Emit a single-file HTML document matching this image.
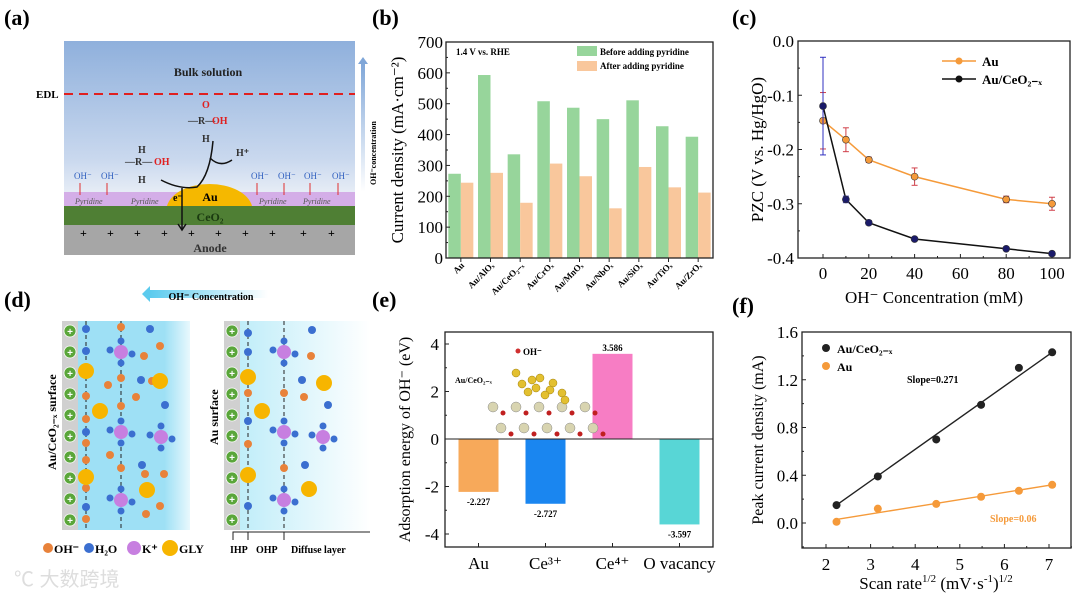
<!DOCTYPE html>
<html><head><meta charset="utf-8"><style>
html,body{margin:0;padding:0;background:#fff;width:1080px;height:600px;overflow:hidden}
svg{display:block;font-family:"Liberation Serif",serif}
</style></head><body>
<svg id="fig" width="1080" height="600" viewBox="0 0 1080 600">
<defs>
<linearGradient id="solA" x1="0" y1="0" x2="0" y2="1"><stop offset="0" stop-color="#8fb0dc"/><stop offset="0.55" stop-color="#c9d8ee"/><stop offset="0.75" stop-color="#eef2f8"/><stop offset="1" stop-color="#fff"/></linearGradient>
<linearGradient id="ohArrow" x1="0" y1="1" x2="0" y2="0"><stop offset="0" stop-color="#fff"/><stop offset="1" stop-color="#7fa6d8"/></linearGradient>
<linearGradient id="dL" x1="0" y1="0" x2="1" y2="0"><stop offset="0" stop-color="#9ee0f5"/><stop offset="0.8" stop-color="#9ee0f5"/><stop offset="1" stop-color="#e8f8fd"/></linearGradient>
<linearGradient id="dR" x1="0" y1="0" x2="1" y2="0"><stop offset="0" stop-color="#b8ebf8"/><stop offset="1" stop-color="#ffffff"/></linearGradient>
<linearGradient id="dArrow" x1="0" y1="0" x2="1" y2="0"><stop offset="0" stop-color="#5ccbee"/><stop offset="1" stop-color="#fff"/></linearGradient>
</defs>

<g font-weight="bold" font-size="22">
<text x="4" y="25">(a)</text>
<text x="372" y="25">(b)</text>
<text x="732" y="25">(c)</text>
<text x="4" y="307">(d)</text>
<text x="372" y="307">(e)</text>
<text x="732" y="313">(f)</text>
</g>

<g>
<rect x="64" y="41" width="291" height="214" fill="url(#solA)"/>
<rect x="64" y="192" width="291" height="14" fill="#d2a6e6" opacity="0.9"/>
<path d="M167 206 A43 26 0 0 1 252 206 Z" fill="#f5b800"/>
<rect x="64" y="206" width="291" height="19" fill="#4f7f34"/>
<rect x="64" y="225" width="291" height="30" fill="#a6a6a6"/>
<line x1="64" y1="94" x2="355" y2="94" stroke="#e02020" stroke-width="2" stroke-dasharray="9,6"/>
<text x="36" y="98" font-size="11" font-weight="bold">EDL</text>
<text x="208" y="76" font-size="12" font-weight="bold" fill="#222" text-anchor="middle">Bulk solution</text>
<g font-size="8" fill="#555" font-style="italic"><text x="75" y="204">Pyridine</text><text x="131" y="204">Pyridine</text><text x="259" y="204">Pyridine</text><text x="303" y="204">Pyridine</text></g>
<g font-size="9" fill="#2f5fbf"><text x="74" y="179">OH⁻</text><text x="101" y="179">OH⁻</text><text x="251" y="179">OH⁻</text><text x="278" y="179">OH⁻</text><text x="304" y="179">OH⁻</text><text x="332" y="179">OH⁻</text></g>
<g stroke="#e03030" stroke-width="1"><line x1="80" y1="195" x2="80" y2="183"/><line x1="107" y1="195" x2="107" y2="183"/><line x1="257" y1="195" x2="257" y2="183"/><line x1="284" y1="195" x2="284" y2="183"/><line x1="310" y1="195" x2="310" y2="183"/><line x1="338" y1="195" x2="338" y2="183"/></g>
<text x="210" y="201" font-size="12" font-weight="bold" text-anchor="middle">Au</text>
<text x="210" y="221" font-size="12" font-weight="bold" fill="#1a3a10" text-anchor="middle">CeO₂</text>
<text x="210" y="252" font-size="12" font-weight="bold" fill="#333" text-anchor="middle">Anode</text>
<g font-size="12" font-weight="bold"><text x="80" y="237">+</text><text x="107" y="237">+</text><text x="134" y="237">+</text><text x="161" y="237">+</text><text x="188" y="237">+</text><text x="215" y="237">+</text><text x="242" y="237">+</text><text x="269" y="237">+</text><text x="300" y="237">+</text><text x="328" y="237">+</text></g>
<text x="173" y="201" font-size="10" font-weight="bold">e⁻</text>
<g font-size="10" font-weight="bold" fill="#333"><text x="138" y="153">H</text><text x="125" y="165">—R—</text><text x="154" y="165" fill="#e02020">OH</text><text x="138" y="183">H</text>
<text x="202" y="108" fill="#e02020">O</text><text x="188" y="124">—R—</text><text x="212" y="124" fill="#e02020">OH</text><text x="202" y="142">H</text><text x="236" y="156">H⁺</text></g>
<path d="M161 180 Q180 190 197 187 Q210 175 213 141" fill="none" stroke="#111" stroke-width="1.5"/>
<path d="M210 158 Q220 168 232 160" fill="none" stroke="#111" stroke-width="1.5"/>
<line x1="182" y1="188" x2="182" y2="229" stroke="#111" stroke-width="1.5"/>
<path d="M178 224 L182 230 L186 224" fill="none" stroke="#111" stroke-width="1.5"/>
<rect x="361" y="62" width="4" height="130" fill="url(#ohArrow)"/>
<path d="M358 64 L363 57 L368 64 Z" fill="#7fa6d8"/>
<text transform="translate(376,185) rotate(-90)" font-size="8" font-weight="bold">OH⁻concentration</text>
</g>

<g>
<rect x="150" y="290" width="118" height="8" fill="url(#dArrow)"/>
<path d="M150 286 L142 294 L150 302 Z" fill="#5ccbee"/>
<text x="211" y="300" font-size="10" font-weight="bold" text-anchor="middle">OH⁻ Concentration</text>
<rect x="62" y="321" width="128" height="209" fill="url(#dL)"/>
<rect x="62" y="321" width="16" height="209" fill="#d0d0d0"/>
<rect x="224" y="321" width="146" height="209" fill="url(#dR)"/>
<rect x="224" y="321" width="16" height="209" fill="#d0d0d0"/>
<line x1="86" y1="321" x2="86" y2="530" stroke="#222" stroke-dasharray="4,3"/>
<line x1="121" y1="321" x2="121" y2="530" stroke="#222" stroke-dasharray="4,3"/>
<line x1="248" y1="321" x2="248" y2="530" stroke="#222" stroke-dasharray="4,3"/>
<line x1="284" y1="321" x2="284" y2="530" stroke="#222" stroke-dasharray="4,3"/>
<g id="dmol"></g>
<text transform="translate(56,470) rotate(-90)" font-size="12" font-weight="bold">Au/CeO₂₋ₓ surface</text>
<text transform="translate(218,445) rotate(-90)" font-size="12" font-weight="bold">Au surface</text>
<g font-size="12" font-weight="bold"><circle cx="48" cy="548" r="5" fill="#e8823a"/><text x="54" y="553">OH⁻</text><circle cx="89" cy="548" r="5" fill="#3b6fd0"/><text x="95" y="553">H₂O</text><circle cx="134" cy="548" r="7" fill="#c77fe0"/><text x="142" y="553">K⁺</text><circle cx="170" cy="548" r="8" fill="#f7b500"/><text x="179" y="553">GLY</text></g>
<g font-size="10" font-weight="bold"><text x="230" y="553">IHP</text><text x="256" y="553">OHP</text><text x="291" y="553">Diffuse layer</text></g>
<path d="M233 540 V532 H370 M248 532 V540 M284 532 V540" fill="none" stroke="#222"/>
<text x="14" y="586" font-size="20" fill="#ddd" font-family="Liberation Sans,'Noto Sans CJK SC',sans-serif">℃ 大数跨境</text>
</g>

<g id="charts"></g>
</svg>
<script>
const bCats=["Au","Au/AlOx","Au/CeO2-x","Au/CrOx","Au/MnOx","Au/NbOx","Au/SiOx","Au/TiOx","Au/ZrOx"];
const bCatLabels=["Au","Au/AlOₓ","Au/CeO₂₋ₓ","Au/CrOₓ","Au/MnOₓ","Au/NbOₓ","Au/SiOₓ","Au/TiOₓ","Au/ZrOₓ"];
const bBefore=[273,593,336,508,487,450,511,427,393];
const bAfter=[244,276,179,306,265,161,295,229,212];
const bTicks=[0,100,200,300,400,500,600,700];
const cX=[0,10,20,40,80,100];
const cAu=[-0.147,-0.182,-0.219,-0.250,-0.292,-0.300];
const cAuErr=[0.052,0.022,0.005,0.016,0.006,0.012];
const cCe=[-0.120,-0.292,-0.335,-0.365,-0.383,-0.392];
const cCeErr=[0.090,0.006,0.004,0.003,0.003,0.003];
const cYTicks=[0,-0.1,-0.2,-0.3,-0.4];
const cXTicks=[0,20,40,60,80,100];
const eCats=["Au","Ce3+","Ce4+","O vacancy"];
const eVals=[-2.227,-2.727,3.586,-3.597];
const eValLabels=["-2.227","-2.727","3.586","-3.597"];
const eYTicks=[-4,-2,0,2,4];
const fX=[2.236,3.162,4.472,5.477,6.325,7.071];
const fCe=[0.15,0.39,0.70,0.99,1.30,1.43];
const fAu=[0.01,0.12,0.16,0.22,0.27,0.32];
const fCeFit=[0.15,1.43];
const fAuFit=[0.03,0.32];
const fYTicks=[0,0.4,0.8,1.2,1.6];
const fXTicks=[2,3,4,5,6,7];

const NS="http://www.w3.org/2000/svg";
const root=document.getElementById('charts');
function mk(tag,attrs,parent,text){const e=document.createElementNS(NS,tag);for(const k in attrs)e.setAttribute(k,attrs[k]);if(text!==undefined)e.textContent=text;(parent||root).appendChild(e);return e;}
function lin(d0,d1,r0,r1){return v=>r0+(v-d0)*(r1-r0)/(d1-d0);}
function frame(g,x0,y0,x1,y1){const r=mk('rect',{x:x0,y:y0,width:x1-x0,height:y1-y0,fill:'none',stroke:'#222','stroke-width':1.3},g);}

(function(){
const g=mk('g',{});
const L=446,R=713,T=42,B=258;
const y=lin(0,700,B,T);const step=(R-L)/bCats.length;const bw=12.5;
bCats.forEach((c,i)=>{const cx=L+step*(i+0.5);
 const r1=mk('rect',{x:cx-bw,y:y(bBefore[i]),width:bw,height:B-y(bBefore[i]),fill:'#97d59b'},g);
 
 const r2=mk('rect',{x:cx,y:y(bAfter[i]),width:bw,height:B-y(bAfter[i]),fill:'#f9c79c'},g);
 
 const t=mk('text',{transform:`translate(${cx+4},${B+8}) rotate(-45)`,'font-size':9,'font-weight':'bold','text-anchor':'end'},g,bCatLabels[i]);
 
 mk('line',{x1:cx,y1:B,x2:cx,y2:B+4,stroke:'#222'},g);
});
frame(g,L,T,R,B);
bTicks.forEach(v=>{mk('line',{x1:L,y1:y(v),x2:L+4,y2:y(v),stroke:'#222'},g);
 if(v<700)mk('line',{x1:L,y1:y(v+50),x2:L+2,y2:y(v+50),stroke:'#222'},g);
 const t=mk('text',{x:L-3,y:y(v)+6,'font-size':17,'text-anchor':'end'},g,v);});
const yt=mk('text',{transform:`translate(403,${(T+B)/2}) rotate(-90)`,'font-size':17,'text-anchor':'middle'},g,'Current density (mA·cm⁻²)');

const an=mk('text',{x:456,y:55,'font-size':9,'font-weight':'bold'},g,'1.4 V vs. RHE');
const l1=mk('rect',{x:577,y:46,width:20,height:10,fill:'#97d59b'},g);
const lt1=mk('text',{x:600,y:55,'font-size':9,'font-weight':'bold'},g,'Before adding pyridine');
const l2=mk('rect',{x:577,y:61,width:20,height:10,fill:'#f9c79c'},g);
const lt2=mk('text',{x:600,y:69,'font-size':9,'font-weight':'bold'},g,'After adding pyridine');
})();

(function(){
const g=mk('g',{});
const L=798,R=1070,T=41,B=258;
const x=lin(0,100,823,1052),y=lin(0,-0.4,T,B);
frame(g,L,T,R,B);
cYTicks.forEach(v=>{mk('line',{x1:L,y1:y(v),x2:L+4,y2:y(v),stroke:'#222'},g);
 if(v>-0.4)mk('line',{x1:L,y1:y(v-0.05),x2:L+2,y2:y(v-0.05),stroke:'#222'},g);
 const t=mk('text',{x:L-4,y:y(v)+6,'font-size':17,'text-anchor':'end'},g,v.toFixed(1));});
cXTicks.forEach(v=>{mk('line',{x1:x(v),y1:B,x2:x(v),y2:B-4,stroke:'#222'},g);
 if(v<100)mk('line',{x1:x(v+10),y1:B,x2:x(v+10),y2:B-2,stroke:'#222'},g);
 const t=mk('text',{x:x(v),y:B+21,'font-size':17,'text-anchor':'middle'},g,v);});
const xt=mk('text',{x:934,y:303,'font-size':17,'text-anchor':'middle'},g,'OH⁻ Concentration (mM)');
const yt=mk('text',{transform:`translate(763,${(T+B)/2}) rotate(-90)`,'font-size':17,'text-anchor':'middle'},g,'PZC (V vs. Hg/HgO)');
function series(vals,errs,col,fill,ecol,name){
 const p=mk('polyline',{points:cX.map((v,i)=>x(v)+','+y(vals[i])).join(' '),fill:'none',stroke:col,'stroke-width':1.5},g);
 
 cX.forEach((v,i)=>{const e=errs[i];
  mk('line',{x1:x(v),y1:y(vals[i]+e),x2:x(v),y2:y(vals[i]-e),stroke:ecol,'stroke-width':1},g);
  mk('line',{x1:x(v)-3,y1:y(vals[i]+e),x2:x(v)+3,y2:y(vals[i]+e),stroke:ecol},g);
  mk('line',{x1:x(v)-3,y1:y(vals[i]-e),x2:x(v)+3,y2:y(vals[i]-e),stroke:ecol},g);
  const c=mk('circle',{cx:x(v),cy:y(vals[i]),r:3.5,fill:fill,stroke:'#333','stroke-width':0.6},g);
  });
}
series(cAu,cAuErr,'#f59a3a','#f59a3a','#d0404a','au');
series(cCe,cCeErr,'#111','#1a1a6a','#3030c0','au-ceo2');
mk('line',{x1:942,y1:61,x2:976,y2:61,stroke:'#f59a3a','stroke-width':1.5},g);mk('circle',{cx:959,cy:61,r:3.5,fill:'#f59a3a'},g);
const a=mk('text',{x:982,y:66,'font-size':13,'font-weight':'bold'},g,'Au');
mk('line',{x1:942,y1:79,x2:976,y2:79,stroke:'#111','stroke-width':1.5},g);mk('circle',{cx:959,cy:79,r:3.5,fill:'#111'},g);
const b=mk('text',{x:982,y:84,'font-size':13,'font-weight':'bold'},g,'Au/CeO₂₋ₓ');
})();

(function(){
const g=mk('g',{});
const L=445,R=713,T=332,B=547;
const y=lin(0,4,439,344);const step=(R-L)/eCats.length;const cols=['#f7a95a','#1a86f0','#f77dc4','#58d6d6'];
eVals.forEach((v,i)=>{const cx=L+step*(i+0.5);
 const r=mk('rect',{x:cx-20,y:Math.min(y(v),y(0)),width:40,height:Math.abs(y(v)-y(0)),fill:cols[i]},g);
 
 const t=mk('text',{x:cx,y:v>0?y(v)-3:y(v)+13,'font-size':9,'font-weight':'bold','text-anchor':'middle'},g,eValLabels[i]);
 
 mk('line',{x1:cx,y1:B,x2:cx,y2:B-4,stroke:'#222'},g);
 const xl=mk('text',{x:cx,y:B+22,'font-size':17,'text-anchor':'middle'},g,['Au','Ce³⁺','Ce⁴⁺','O vacancy'][i]);
 });
mk('line',{x1:L,y1:y(0),x2:R,y2:y(0),stroke:'#222'},g);
frame(g,L,T,R,B);
eYTicks.forEach(v=>{mk('line',{x1:L,y1:y(v),x2:L+4,y2:y(v),stroke:'#222'},g);
 if(v<4)mk('line',{x1:L,y1:y(v+1),x2:L+2,y2:y(v+1),stroke:'#222'},g);
 const t=mk('text',{x:L-6,y:y(v)+6,'font-size':17,'text-anchor':'end'},g,v);});
const yt=mk('text',{transform:`translate(410,${(T+B)/2}) rotate(-90)`,'font-size':16,'text-anchor':'middle'},g,'Adsorption energy of OH⁻ (eV)');
const ins=mk('g',{},g);
mk('text',{x:455,y:383,'font-size':8,'font-weight':'bold'},ins,'Au/CeO₂₋ₓ');
mk('circle',{cx:518,cy:351,r:2.5,fill:'#d03030'},ins);mk('text',{x:523,y:355,'font-size':9,'font-weight':'bold'},ins,'OH⁻');
for(let r=0;r<2;r++)for(let k=0;k<5;k++){mk('circle',{cx:493+k*23+r*8,cy:407+r*21,r:5,fill:'#d8d4b0',stroke:'#888','stroke-width':0.5},ins);
 mk('circle',{cx:503+k*23+r*8,cy:413+r*21,r:2.5,fill:'#c02020'},ins);}
[[516,373],[522,384],[532,380],[540,378],[536,388],[553,383],[550,390],[562,393],[565,400],[528,392],[545,395]].forEach(p=>mk('circle',{cx:p[0],cy:p[1],r:4,fill:'#e3c030',stroke:'#a08010','stroke-width':0.5},ins));
})();

(function(){
const g=mk('g',{});
const L=802,R=1071,T=332,B=548;
const x=lin(2,7,826,1049),y=lin(0,1.6,523,332);
frame(g,L,T,R,B);
fYTicks.forEach(v=>{mk('line',{x1:L,y1:y(v),x2:L+4,y2:y(v),stroke:'#222'},g);
 mk('line',{x1:L,y1:y(v-0.2),x2:L+2,y2:y(v-0.2),stroke:'#222'},g);
 const t=mk('text',{x:L-4,y:y(v)+6,'font-size':17,'text-anchor':'end'},g,v.toFixed(1));});
fXTicks.forEach(v=>{mk('line',{x1:x(v),y1:B,x2:x(v),y2:B-4,stroke:'#222'},g);
 mk('line',{x1:x(v+0.5),y1:B,x2:x(v+0.5),y2:B-2,stroke:'#222'},g);
 const t=mk('text',{x:x(v),y:B+22,'font-size':17,'text-anchor':'middle'},g,v);});
const xt=mk('text',{x:936,y:589,'font-size':17,'text-anchor':'middle'},g);
mk('tspan',{},xt,'Scan rate');mk('tspan',{'font-size':11,dy:-7},xt,'1/2');mk('tspan',{dy:7},xt,' (mV·s');mk('tspan',{'font-size':11,dy:-7},xt,'-1');mk('tspan',{dy:7},xt,')');mk('tspan',{'font-size':11,dy:-7},xt,'1/2');
const yt=mk('text',{transform:`translate(763,${(T+B)/2}) rotate(-90)`,'font-size':16,'text-anchor':'middle'},g,'Peak current density (mA)');
const x0=fX[0],x1=fX[fX.length-1];
const f1=mk('line',{x1:x(x0),y1:y(fCeFit[0]),x2:x(x1),y2:y(fCeFit[1]),stroke:'#222','stroke-width':1.4},g);
const f2=mk('line',{x1:x(x0),y1:y(fAuFit[0]),x2:x(x1),y2:y(fAuFit[1]),stroke:'#f59a3a','stroke-width':1.4},g);
fX.forEach((v,i)=>{const a=mk('circle',{cx:x(v),cy:y(fCe[i]),r:4,fill:'#222'},g);
 const b=mk('circle',{cx:x(v),cy:y(fAu[i]),r:4,fill:'#f59a3a'},g);});
mk('circle',{cx:826,cy:348,r:4,fill:'#222'},g);
const l1=mk('text',{x:837,y:353,'font-size':12,'font-weight':'bold'},g,'Au/CeO₂₋ₓ');
mk('circle',{cx:826,cy:366,r:4,fill:'#f59a3a'},g);
const l2=mk('text',{x:837,y:371,'font-size':12,'font-weight':'bold'},g,'Au');
const s1=mk('text',{x:907,y:383,'font-size':10,'font-weight':'bold'},g,'Slope=0.271');
const s2=mk('text',{x:990,y:522,'font-size':10,'font-weight':'bold',fill:'#f59a3a'},g,'Slope=0.06');
})();

(function(){
const g=document.getElementById('dmol');
function plus(x0,n){for(let i=0;i<n;i++){const cy=331+i*21;mk('circle',{cx:x0,cy:cy,r:6,fill:'#5aa63a',stroke:'#fff','stroke-width':0.8},g);mk('text',{x:x0,y:cy+4,'font-size':10,'font-weight':'bold',fill:'#fff','text-anchor':'middle',style:'font-family:Liberation Sans,sans-serif'},g,'+');}}
plus(70,10);plus(232,10);
function K(cx,cy){mk('circle',{cx:cx,cy:cy,r:7,fill:'#c77fe0'},g);[[-11,-2],[11,2],[0,-11],[0,11]].forEach(d=>mk('circle',{cx:cx+d[0],cy:cy+d[1],r:3.5,fill:'#3b6fd0'},g));}
K(121,352);K(121,432);K(161,437);K(121,500);K(284,352);K(284,432);K(323,437);K(284,500);
[[86,372],[86,396],[86,419],[86,443],[86,460],[86,488],[86,519],[121,327],[121,378],[121,406],[108,385],[136,397],[144,356],[160,346],[152,381],[110,455],[121,468],[145,474],[164,474],[146,514],[160,506],[248,393],[248,444],[284,393],[284,468],[304,397],[311,356]].forEach(p=>mk('circle',{cx:p[0],cy:p[1],r:4,fill:'#e8823a'},g));
[[86,329],[86,351],[86,432],[86,507],[150,329],[141,380],[165,405],[142,465],[248,333],[248,352],[248,421],[248,506],[312,330],[302,380],[328,405],[305,465]].forEach(p=>mk('circle',{cx:p[0],cy:p[1],r:4,fill:'#3b6fd0'},g));
[[86,371],[86,477],[160,381],[100,411],[147,490],[248,377],[248,475],[324,383],[262,411],[309,489]].forEach(p=>mk('circle',{cx:p[0],cy:p[1],r:8,fill:'#f7b500'},g));
})();
</script>
</body></html>
